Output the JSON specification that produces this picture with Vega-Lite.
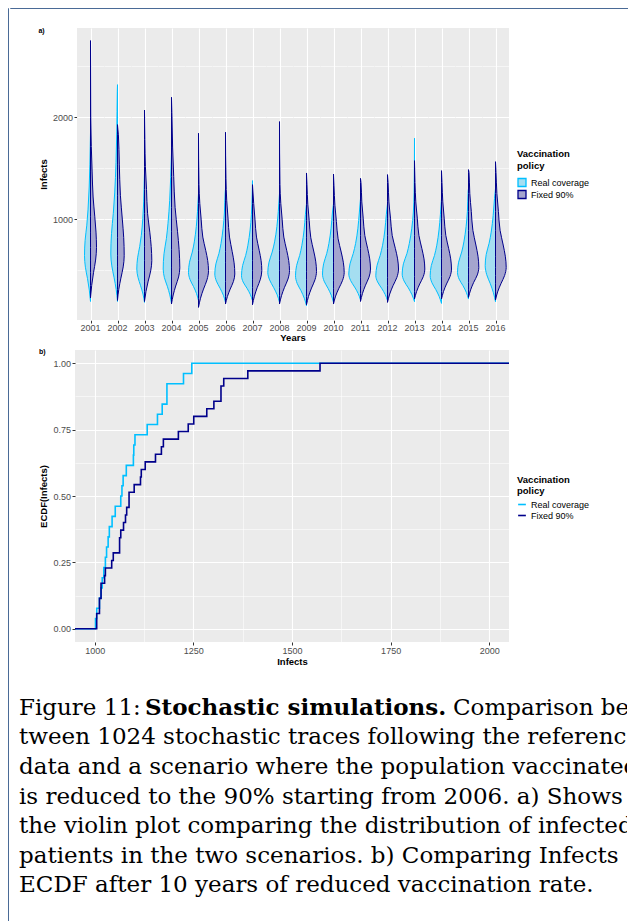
{
  "$schema": "https://vega.github.io/schema/vega-lite/v6.json",
  "padding": {"left": 7, "top": 7, "right": 0, "bottom": 0},
  "background": "white",
  "spacing": 0,
  "config": {
    "font": "Liberation Sans",
    "view": {"stroke": null},
    "axis": {"labelFont": "Liberation Sans", "labelFontSize": 9, "labelColor": "#4d4d4d", "tickColor": "#333333", "tickSize": 3, "domain": false, "gridColor": "white", "titleFontSize": 9.5, "titleFontWeight": "bold", "titleColor": "black", "labelPadding": 1.5},
    "header": {"labelFont": "Liberation Sans", "titleFont": "Liberation Sans"},
    "legend": {"labelFont": "Liberation Sans", "titleFont": "Liberation Sans", "labelFontSize": 9, "titleFontSize": 9.5, "titleFontWeight": "bold", "labelColor": "black", "titleColor": "black", "rowPadding": 1, "titlePadding": 4, "labelOffset": 4, "titleLineHeight": 11},
    "title": {"font": "Liberation Sans"}
  },
  "datasets": {
    "violins": [
      {"year":2001,"policy":"Real coverage","infects":190,"density":0},{"year":2001,"policy":"Real coverage","infects":302,"density":-0.12},{"year":2001,"policy":"Real coverage","infects":415,"density":-0.30},{"year":2001,"policy":"Real coverage","infects":527,"density":-0.51},{"year":2001,"policy":"Real coverage","infects":640,"density":-0.60},{"year":2001,"policy":"Real coverage","infects":790,"density":-0.54},{"year":2001,"policy":"Real coverage","infects":940,"density":-0.37},{"year":2001,"policy":"Real coverage","infects":1090,"density":-0.25},{"year":2001,"policy":"Real coverage","infects":1315,"density":-0.13},{"year":2001,"policy":"Real coverage","infects":1540,"density":-0.06},{"year":2001,"policy":"Real coverage","infects":1850,"density":0},
      {"year":2001,"policy":"Fixed 90%","infects":224,"density":0},{"year":2001,"policy":"Fixed 90%","infects":348,"density":0.12},{"year":2001,"policy":"Fixed 90%","infects":473,"density":0.30},{"year":2001,"policy":"Fixed 90%","infects":597,"density":0.51},{"year":2001,"policy":"Fixed 90%","infects":722,"density":0.60},{"year":2001,"policy":"Fixed 90%","infects":872,"density":0.55},{"year":2001,"policy":"Fixed 90%","infects":1022,"density":0.43},{"year":2001,"policy":"Fixed 90%","infects":1217,"density":0.26},{"year":2001,"policy":"Fixed 90%","infects":1472,"density":0.16},{"year":2001,"policy":"Fixed 90%","infects":1712,"density":0.08},{"year":2001,"policy":"Fixed 90%","infects":1997,"density":0.03},{"year":2001,"policy":"Fixed 90%","infects":2754,"density":0},
      {"year":2002,"policy":"Real coverage","infects":190,"density":0},{"year":2002,"policy":"Real coverage","infects":307,"density":-0.13},{"year":2002,"policy":"Real coverage","infects":424,"density":-0.34},{"year":2002,"policy":"Real coverage","infects":540,"density":-0.57},{"year":2002,"policy":"Real coverage","infects":657,"density":-0.67},{"year":2002,"policy":"Real coverage","infects":857,"density":-0.60},{"year":2002,"policy":"Real coverage","infects":1057,"density":-0.42},{"year":2002,"policy":"Real coverage","infects":1257,"density":-0.28},{"year":2002,"policy":"Real coverage","infects":1557,"density":-0.15},{"year":2002,"policy":"Real coverage","infects":1857,"density":-0.07},{"year":2002,"policy":"Real coverage","infects":2257,"density":-0.02},{"year":2002,"policy":"Real coverage","infects":2321,"density":0},
      {"year":2002,"policy":"Fixed 90%","infects":200,"density":0},{"year":2002,"policy":"Fixed 90%","infects":310,"density":0.13},{"year":2002,"policy":"Fixed 90%","infects":420,"density":0.34},{"year":2002,"policy":"Fixed 90%","infects":530,"density":0.57},{"year":2002,"policy":"Fixed 90%","infects":640,"density":0.67},{"year":2002,"policy":"Fixed 90%","infects":820,"density":0.62},{"year":2002,"policy":"Fixed 90%","infects":1000,"density":0.48},{"year":2002,"policy":"Fixed 90%","infects":1234,"density":0.29},{"year":2002,"policy":"Fixed 90%","infects":1540,"density":0.18},{"year":2002,"policy":"Fixed 90%","infects":1828,"density":0.09},{"year":2002,"policy":"Fixed 90%","infects":1928,"density":0},
      {"year":2003,"policy":"Real coverage","infects":181,"density":0},{"year":2003,"policy":"Real coverage","infects":263,"density":-0.15},{"year":2003,"policy":"Real coverage","infects":345,"density":-0.39},{"year":2003,"policy":"Real coverage","infects":427,"density":-0.65},{"year":2003,"policy":"Real coverage","infects":509,"density":-0.77},{"year":2003,"policy":"Real coverage","infects":619,"density":-0.69},{"year":2003,"policy":"Real coverage","infects":729,"density":-0.48},{"year":2003,"policy":"Real coverage","infects":839,"density":-0.32},{"year":2003,"policy":"Real coverage","infects":1004,"density":-0.17},{"year":2003,"policy":"Real coverage","infects":1169,"density":-0.08},{"year":2003,"policy":"Real coverage","infects":1389,"density":-0.02},{"year":2003,"policy":"Real coverage","infects":1450,"density":0},
      {"year":2003,"policy":"Fixed 90%","infects":190,"density":0},{"year":2003,"policy":"Fixed 90%","infects":290,"density":0.15},{"year":2003,"policy":"Fixed 90%","infects":390,"density":0.37},{"year":2003,"policy":"Fixed 90%","infects":491,"density":0.62},{"year":2003,"policy":"Fixed 90%","infects":591,"density":0.73},{"year":2003,"policy":"Fixed 90%","infects":731,"density":0.67},{"year":2003,"policy":"Fixed 90%","infects":871,"density":0.53},{"year":2003,"policy":"Fixed 90%","infects":1053,"density":0.31},{"year":2003,"policy":"Fixed 90%","infects":1291,"density":0.20},{"year":2003,"policy":"Fixed 90%","infects":1515,"density":0.09},{"year":2003,"policy":"Fixed 90%","infects":1781,"density":0.04},{"year":2003,"policy":"Fixed 90%","infects":2072,"density":0},
      {"year":2004,"policy":"Real coverage","infects":170,"density":0},{"year":2004,"policy":"Real coverage","infects":255,"density":-0.17},{"year":2004,"policy":"Real coverage","infects":340,"density":-0.42},{"year":2004,"policy":"Real coverage","infects":424,"density":-0.71},{"year":2004,"policy":"Real coverage","infects":509,"density":-0.83},{"year":2004,"policy":"Real coverage","infects":659,"density":-0.75},{"year":2004,"policy":"Real coverage","infects":809,"density":-0.51},{"year":2004,"policy":"Real coverage","infects":959,"density":-0.35},{"year":2004,"policy":"Real coverage","infects":1184,"density":-0.18},{"year":2004,"policy":"Real coverage","infects":1409,"density":-0.08},{"year":2004,"policy":"Real coverage","infects":1650,"density":0},
      {"year":2004,"policy":"Fixed 90%","infects":165,"density":0},{"year":2004,"policy":"Fixed 90%","infects":254,"density":0.17},{"year":2004,"policy":"Fixed 90%","infects":342,"density":0.42},{"year":2004,"policy":"Fixed 90%","infects":431,"density":0.71},{"year":2004,"policy":"Fixed 90%","infects":520,"density":0.83},{"year":2004,"policy":"Fixed 90%","infects":700,"density":0.76},{"year":2004,"policy":"Fixed 90%","infects":880,"density":0.60},{"year":2004,"policy":"Fixed 90%","infects":1114,"density":0.36},{"year":2004,"policy":"Fixed 90%","infects":1420,"density":0.22},{"year":2004,"policy":"Fixed 90%","infects":1708,"density":0.11},{"year":2004,"policy":"Fixed 90%","infects":2050,"density":0.04},{"year":2004,"policy":"Fixed 90%","infects":2197,"density":0},
      {"year":2005,"policy":"Real coverage","infects":198,"density":0},{"year":2005,"policy":"Real coverage","infects":268,"density":-0.20},{"year":2005,"policy":"Real coverage","infects":337,"density":-0.50},{"year":2005,"policy":"Real coverage","infects":406,"density":-0.85},{"year":2005,"policy":"Real coverage","infects":476,"density":-1.00},{"year":2005,"policy":"Real coverage","infects":576,"density":-0.90},{"year":2005,"policy":"Real coverage","infects":676,"density":-0.62},{"year":2005,"policy":"Real coverage","infects":776,"density":-0.42},{"year":2005,"policy":"Real coverage","infects":926,"density":-0.22},{"year":2005,"policy":"Real coverage","infects":1076,"density":-0.10},{"year":2005,"policy":"Real coverage","infects":1250,"density":0},
      {"year":2005,"policy":"Fixed 90%","infects":132,"density":0},{"year":2005,"policy":"Fixed 90%","infects":222,"density":0.20},{"year":2005,"policy":"Fixed 90%","infects":312,"density":0.50},{"year":2005,"policy":"Fixed 90%","infects":403,"density":0.85},{"year":2005,"policy":"Fixed 90%","infects":493,"density":1.00},{"year":2005,"policy":"Fixed 90%","infects":593,"density":0.92},{"year":2005,"policy":"Fixed 90%","infects":693,"density":0.72},{"year":2005,"policy":"Fixed 90%","infects":823,"density":0.43},{"year":2005,"policy":"Fixed 90%","infects":993,"density":0.27},{"year":2005,"policy":"Fixed 90%","infects":1153,"density":0.13},{"year":2005,"policy":"Fixed 90%","infects":1343,"density":0.05},{"year":2005,"policy":"Fixed 90%","infects":1843,"density":0},
      {"year":2006,"policy":"Real coverage","infects":181,"density":0},{"year":2006,"policy":"Real coverage","infects":251,"density":-0.21},{"year":2006,"policy":"Real coverage","infects":320,"density":-0.54},{"year":2006,"policy":"Real coverage","infects":390,"density":-0.91},{"year":2006,"policy":"Real coverage","infects":460,"density":-1.07},{"year":2006,"policy":"Real coverage","infects":560,"density":-0.96},{"year":2006,"policy":"Real coverage","infects":660,"density":-0.66},{"year":2006,"policy":"Real coverage","infects":760,"density":-0.45},{"year":2006,"policy":"Real coverage","infects":910,"density":-0.24},{"year":2006,"policy":"Real coverage","infects":1060,"density":-0.11},{"year":2006,"policy":"Real coverage","infects":1260,"density":-0.03},{"year":2006,"policy":"Real coverage","infects":1300,"density":0},
      {"year":2006,"policy":"Fixed 90%","infects":165,"density":0},{"year":2006,"policy":"Fixed 90%","infects":239,"density":0.19},{"year":2006,"policy":"Fixed 90%","infects":312,"density":0.47},{"year":2006,"policy":"Fixed 90%","infects":386,"density":0.79},{"year":2006,"policy":"Fixed 90%","infects":460,"density":0.93},{"year":2006,"policy":"Fixed 90%","infects":570,"density":0.86},{"year":2006,"policy":"Fixed 90%","infects":680,"density":0.67},{"year":2006,"policy":"Fixed 90%","infects":823,"density":0.40},{"year":2006,"policy":"Fixed 90%","infects":1010,"density":0.25},{"year":2006,"policy":"Fixed 90%","infects":1186,"density":0.12},{"year":2006,"policy":"Fixed 90%","infects":1395,"density":0.05},{"year":2006,"policy":"Fixed 90%","infects":1853,"density":0},
      {"year":2007,"policy":"Real coverage","infects":198,"density":0},{"year":2007,"policy":"Real coverage","infects":259,"density":-0.22},{"year":2007,"policy":"Real coverage","infects":320,"density":-0.55},{"year":2007,"policy":"Real coverage","infects":382,"density":-0.94},{"year":2007,"policy":"Real coverage","infects":443,"density":-1.10},{"year":2007,"policy":"Real coverage","infects":543,"density":-0.99},{"year":2007,"policy":"Real coverage","infects":643,"density":-0.68},{"year":2007,"policy":"Real coverage","infects":743,"density":-0.46},{"year":2007,"policy":"Real coverage","infects":893,"density":-0.24},{"year":2007,"policy":"Real coverage","infects":1043,"density":-0.11},{"year":2007,"policy":"Real coverage","infects":1243,"density":-0.03},{"year":2007,"policy":"Real coverage","infects":1378,"density":0},
      {"year":2007,"policy":"Fixed 90%","infects":158,"density":0},{"year":2007,"policy":"Fixed 90%","infects":242,"density":0.19},{"year":2007,"policy":"Fixed 90%","infects":326,"density":0.47},{"year":2007,"policy":"Fixed 90%","infects":409,"density":0.79},{"year":2007,"policy":"Fixed 90%","infects":493,"density":0.93},{"year":2007,"policy":"Fixed 90%","infects":593,"density":0.86},{"year":2007,"policy":"Fixed 90%","infects":693,"density":0.67},{"year":2007,"policy":"Fixed 90%","infects":823,"density":0.40},{"year":2007,"policy":"Fixed 90%","infects":993,"density":0.25},{"year":2007,"policy":"Fixed 90%","infects":1153,"density":0.12},{"year":2007,"policy":"Fixed 90%","infects":1338,"density":0},
      {"year":2008,"policy":"Real coverage","infects":181,"density":0},{"year":2008,"policy":"Real coverage","infects":255,"density":-0.23},{"year":2008,"policy":"Real coverage","infects":328,"density":-0.59},{"year":2008,"policy":"Real coverage","infects":402,"density":-0.99},{"year":2008,"policy":"Real coverage","infects":476,"density":-1.17},{"year":2008,"policy":"Real coverage","infects":576,"density":-1.05},{"year":2008,"policy":"Real coverage","infects":676,"density":-0.73},{"year":2008,"policy":"Real coverage","infects":776,"density":-0.49},{"year":2008,"policy":"Real coverage","infects":926,"density":-0.26},{"year":2008,"policy":"Real coverage","infects":1076,"density":-0.12},{"year":2008,"policy":"Real coverage","infects":1250,"density":0},
      {"year":2008,"policy":"Fixed 90%","infects":165,"density":0},{"year":2008,"policy":"Fixed 90%","infects":247,"density":0.20},{"year":2008,"policy":"Fixed 90%","infects":329,"density":0.50},{"year":2008,"policy":"Fixed 90%","infects":411,"density":0.85},{"year":2008,"policy":"Fixed 90%","infects":493,"density":1.00},{"year":2008,"policy":"Fixed 90%","infects":593,"density":0.92},{"year":2008,"policy":"Fixed 90%","infects":693,"density":0.72},{"year":2008,"policy":"Fixed 90%","infects":823,"density":0.43},{"year":2008,"policy":"Fixed 90%","infects":993,"density":0.27},{"year":2008,"policy":"Fixed 90%","infects":1153,"density":0.13},{"year":2008,"policy":"Fixed 90%","infects":1343,"density":0.05},{"year":2008,"policy":"Fixed 90%","infects":1958,"density":0},
      {"year":2009,"policy":"Real coverage","infects":148,"density":0},{"year":2009,"policy":"Real coverage","infects":222,"density":-0.22},{"year":2009,"policy":"Real coverage","infects":296,"density":-0.55},{"year":2009,"policy":"Real coverage","infects":369,"density":-0.94},{"year":2009,"policy":"Real coverage","infects":443,"density":-1.10},{"year":2009,"policy":"Real coverage","infects":543,"density":-0.99},{"year":2009,"policy":"Real coverage","infects":643,"density":-0.68},{"year":2009,"policy":"Real coverage","infects":743,"density":-0.46},{"year":2009,"policy":"Real coverage","infects":893,"density":-0.24},{"year":2009,"policy":"Real coverage","infects":1043,"density":-0.11},{"year":2009,"policy":"Real coverage","infects":1150,"density":0},
      {"year":2009,"policy":"Fixed 90%","infects":158,"density":0},{"year":2009,"policy":"Fixed 90%","infects":240,"density":0.20},{"year":2009,"policy":"Fixed 90%","infects":322,"density":0.50},{"year":2009,"policy":"Fixed 90%","infects":404,"density":0.85},{"year":2009,"policy":"Fixed 90%","infects":486,"density":1.00},{"year":2009,"policy":"Fixed 90%","infects":586,"density":0.92},{"year":2009,"policy":"Fixed 90%","infects":686,"density":0.72},{"year":2009,"policy":"Fixed 90%","infects":816,"density":0.43},{"year":2009,"policy":"Fixed 90%","infects":986,"density":0.27},{"year":2009,"policy":"Fixed 90%","infects":1146,"density":0.13},{"year":2009,"policy":"Fixed 90%","infects":1336,"density":0.05},{"year":2009,"policy":"Fixed 90%","infects":1453,"density":0},
      {"year":2010,"policy":"Real coverage","infects":181,"density":0},{"year":2010,"policy":"Real coverage","infects":251,"density":-0.22},{"year":2010,"policy":"Real coverage","infects":320,"density":-0.55},{"year":2010,"policy":"Real coverage","infects":390,"density":-0.94},{"year":2010,"policy":"Real coverage","infects":460,"density":-1.10},{"year":2010,"policy":"Real coverage","infects":560,"density":-0.99},{"year":2010,"policy":"Real coverage","infects":660,"density":-0.68},{"year":2010,"policy":"Real coverage","infects":760,"density":-0.46},{"year":2010,"policy":"Real coverage","infects":910,"density":-0.24},{"year":2010,"policy":"Real coverage","infects":1060,"density":-0.11},{"year":2010,"policy":"Real coverage","infects":1150,"density":0},
      {"year":2010,"policy":"Fixed 90%","infects":165,"density":0},{"year":2010,"policy":"Fixed 90%","infects":243,"density":0.21},{"year":2010,"policy":"Fixed 90%","infects":320,"density":0.54},{"year":2010,"policy":"Fixed 90%","infects":398,"density":0.91},{"year":2010,"policy":"Fixed 90%","infects":476,"density":1.07},{"year":2010,"policy":"Fixed 90%","infects":576,"density":0.98},{"year":2010,"policy":"Fixed 90%","infects":676,"density":0.77},{"year":2010,"policy":"Fixed 90%","infects":806,"density":0.46},{"year":2010,"policy":"Fixed 90%","infects":976,"density":0.29},{"year":2010,"policy":"Fixed 90%","infects":1136,"density":0.14},{"year":2010,"policy":"Fixed 90%","infects":1326,"density":0.05},{"year":2010,"policy":"Fixed 90%","infects":1443,"density":0},
      {"year":2011,"policy":"Real coverage","infects":204,"density":0},{"year":2011,"policy":"Real coverage","infects":268,"density":-0.23},{"year":2011,"policy":"Real coverage","infects":332,"density":-0.59},{"year":2011,"policy":"Real coverage","infects":396,"density":-0.99},{"year":2011,"policy":"Real coverage","infects":460,"density":-1.17},{"year":2011,"policy":"Real coverage","infects":560,"density":-1.05},{"year":2011,"policy":"Real coverage","infects":660,"density":-0.73},{"year":2011,"policy":"Real coverage","infects":760,"density":-0.49},{"year":2011,"policy":"Real coverage","infects":910,"density":-0.26},{"year":2011,"policy":"Real coverage","infects":1060,"density":-0.12},{"year":2011,"policy":"Real coverage","infects":1200,"density":0},
      {"year":2011,"policy":"Fixed 90%","infects":190,"density":0},{"year":2011,"policy":"Fixed 90%","infects":270,"density":0.20},{"year":2011,"policy":"Fixed 90%","infects":350,"density":0.50},{"year":2011,"policy":"Fixed 90%","infects":429,"density":0.85},{"year":2011,"policy":"Fixed 90%","infects":509,"density":1.00},{"year":2011,"policy":"Fixed 90%","infects":609,"density":0.92},{"year":2011,"policy":"Fixed 90%","infects":709,"density":0.72},{"year":2011,"policy":"Fixed 90%","infects":839,"density":0.43},{"year":2011,"policy":"Fixed 90%","infects":1009,"density":0.27},{"year":2011,"policy":"Fixed 90%","infects":1169,"density":0.13},{"year":2011,"policy":"Fixed 90%","infects":1359,"density":0.05},{"year":2011,"policy":"Fixed 90%","infects":1400,"density":0},
      {"year":2012,"policy":"Real coverage","infects":198,"density":0},{"year":2012,"policy":"Real coverage","infects":259,"density":-0.23},{"year":2012,"policy":"Real coverage","infects":320,"density":-0.59},{"year":2012,"policy":"Real coverage","infects":382,"density":-0.99},{"year":2012,"policy":"Real coverage","infects":443,"density":-1.17},{"year":2012,"policy":"Real coverage","infects":543,"density":-1.05},{"year":2012,"policy":"Real coverage","infects":643,"density":-0.73},{"year":2012,"policy":"Real coverage","infects":743,"density":-0.49},{"year":2012,"policy":"Real coverage","infects":893,"density":-0.26},{"year":2012,"policy":"Real coverage","infects":1043,"density":-0.12},{"year":2012,"policy":"Real coverage","infects":1150,"density":0},
      {"year":2012,"policy":"Fixed 90%","infects":181,"density":0},{"year":2012,"policy":"Fixed 90%","infects":263,"density":0.22},{"year":2012,"policy":"Fixed 90%","infects":345,"density":0.55},{"year":2012,"policy":"Fixed 90%","infects":427,"density":0.94},{"year":2012,"policy":"Fixed 90%","infects":509,"density":1.10},{"year":2012,"policy":"Fixed 90%","infects":609,"density":1.01},{"year":2012,"policy":"Fixed 90%","infects":709,"density":0.79},{"year":2012,"policy":"Fixed 90%","infects":839,"density":0.47},{"year":2012,"policy":"Fixed 90%","infects":1009,"density":0.30},{"year":2012,"policy":"Fixed 90%","infects":1169,"density":0.14},{"year":2012,"policy":"Fixed 90%","infects":1359,"density":0.06},{"year":2012,"policy":"Fixed 90%","infects":1437,"density":0},
      {"year":2013,"policy":"Real coverage","infects":188,"density":0},{"year":2013,"policy":"Real coverage","infects":256,"density":-0.25},{"year":2013,"policy":"Real coverage","infects":324,"density":-0.62},{"year":2013,"policy":"Real coverage","infects":392,"density":-1.05},{"year":2013,"policy":"Real coverage","infects":460,"density":-1.23},{"year":2013,"policy":"Real coverage","infects":560,"density":-1.11},{"year":2013,"policy":"Real coverage","infects":660,"density":-0.76},{"year":2013,"policy":"Real coverage","infects":760,"density":-0.52},{"year":2013,"policy":"Real coverage","infects":910,"density":-0.27},{"year":2013,"policy":"Real coverage","infects":1060,"density":-0.12},{"year":2013,"policy":"Real coverage","infects":1260,"density":-0.04},{"year":2013,"policy":"Real coverage","infects":1794,"density":0},
      {"year":2013,"policy":"Fixed 90%","infects":214,"density":0},{"year":2013,"policy":"Fixed 90%","infects":288,"density":0.21},{"year":2013,"policy":"Fixed 90%","infects":362,"density":0.52},{"year":2013,"policy":"Fixed 90%","infects":435,"density":0.88},{"year":2013,"policy":"Fixed 90%","infects":509,"density":1.03},{"year":2013,"policy":"Fixed 90%","infects":609,"density":0.95},{"year":2013,"policy":"Fixed 90%","infects":709,"density":0.74},{"year":2013,"policy":"Fixed 90%","infects":839,"density":0.44},{"year":2013,"policy":"Fixed 90%","infects":1009,"density":0.28},{"year":2013,"policy":"Fixed 90%","infects":1169,"density":0.13},{"year":2013,"policy":"Fixed 90%","infects":1359,"density":0.05},{"year":2013,"policy":"Fixed 90%","infects":1574,"density":0},
      {"year":2014,"policy":"Real coverage","infects":171,"density":0},{"year":2014,"policy":"Real coverage","infects":239,"density":-0.23},{"year":2014,"policy":"Real coverage","infects":307,"density":-0.57},{"year":2014,"policy":"Real coverage","infects":375,"density":-0.96},{"year":2014,"policy":"Real coverage","infects":443,"density":-1.13},{"year":2014,"policy":"Real coverage","infects":543,"density":-1.02},{"year":2014,"policy":"Real coverage","infects":643,"density":-0.70},{"year":2014,"policy":"Real coverage","infects":743,"density":-0.47},{"year":2014,"policy":"Real coverage","infects":893,"density":-0.25},{"year":2014,"policy":"Real coverage","infects":1043,"density":-0.11},{"year":2014,"policy":"Real coverage","infects":1200,"density":0},
      {"year":2014,"policy":"Fixed 90%","infects":214,"density":0},{"year":2014,"policy":"Fixed 90%","infects":288,"density":0.20},{"year":2014,"policy":"Fixed 90%","infects":362,"density":0.50},{"year":2014,"policy":"Fixed 90%","infects":435,"density":0.85},{"year":2014,"policy":"Fixed 90%","infects":509,"density":1.00},{"year":2014,"policy":"Fixed 90%","infects":609,"density":0.92},{"year":2014,"policy":"Fixed 90%","infects":709,"density":0.72},{"year":2014,"policy":"Fixed 90%","infects":839,"density":0.43},{"year":2014,"policy":"Fixed 90%","infects":1009,"density":0.27},{"year":2014,"policy":"Fixed 90%","infects":1169,"density":0.13},{"year":2014,"policy":"Fixed 90%","infects":1359,"density":0.05},{"year":2014,"policy":"Fixed 90%","infects":1476,"density":0},
      {"year":2015,"policy":"Real coverage","infects":214,"density":0},{"year":2015,"policy":"Real coverage","infects":280,"density":-0.22},{"year":2015,"policy":"Real coverage","infects":345,"density":-0.55},{"year":2015,"policy":"Real coverage","infects":410,"density":-0.94},{"year":2015,"policy":"Real coverage","infects":476,"density":-1.10},{"year":2015,"policy":"Real coverage","infects":576,"density":-0.99},{"year":2015,"policy":"Real coverage","infects":676,"density":-0.68},{"year":2015,"policy":"Real coverage","infects":776,"density":-0.46},{"year":2015,"policy":"Real coverage","infects":926,"density":-0.24},{"year":2015,"policy":"Real coverage","infects":1076,"density":-0.11},{"year":2015,"policy":"Real coverage","infects":1276,"density":-0.03},{"year":2015,"policy":"Real coverage","infects":1300,"density":0},
      {"year":2015,"policy":"Fixed 90%","infects":230,"density":0},{"year":2015,"policy":"Fixed 90%","infects":304,"density":0.21},{"year":2015,"policy":"Fixed 90%","infects":378,"density":0.52},{"year":2015,"policy":"Fixed 90%","infects":451,"density":0.88},{"year":2015,"policy":"Fixed 90%","infects":525,"density":1.03},{"year":2015,"policy":"Fixed 90%","infects":635,"density":0.95},{"year":2015,"policy":"Fixed 90%","infects":745,"density":0.74},{"year":2015,"policy":"Fixed 90%","infects":888,"density":0.44},{"year":2015,"policy":"Fixed 90%","infects":1075,"density":0.28},{"year":2015,"policy":"Fixed 90%","infects":1251,"density":0.13},{"year":2015,"policy":"Fixed 90%","infects":1460,"density":0.05},{"year":2015,"policy":"Fixed 90%","infects":1486,"density":0},
      {"year":2016,"policy":"Real coverage","infects":188,"density":0},{"year":2016,"policy":"Real coverage","infects":276,"density":-0.21},{"year":2016,"policy":"Real coverage","infects":365,"density":-0.52},{"year":2016,"policy":"Real coverage","infects":454,"density":-0.88},{"year":2016,"policy":"Real coverage","infects":542,"density":-1.03},{"year":2016,"policy":"Real coverage","infects":652,"density":-0.93},{"year":2016,"policy":"Real coverage","infects":762,"density":-0.64},{"year":2016,"policy":"Real coverage","infects":872,"density":-0.43},{"year":2016,"policy":"Real coverage","infects":1037,"density":-0.23},{"year":2016,"policy":"Real coverage","infects":1202,"density":-0.10},{"year":2016,"policy":"Real coverage","infects":1300,"density":0},
      {"year":2016,"policy":"Fixed 90%","infects":204,"density":0},{"year":2016,"policy":"Fixed 90%","infects":284,"density":0.21},{"year":2016,"policy":"Fixed 90%","infects":364,"density":0.54},{"year":2016,"policy":"Fixed 90%","infects":445,"density":0.91},{"year":2016,"policy":"Fixed 90%","infects":525,"density":1.07},{"year":2016,"policy":"Fixed 90%","infects":635,"density":0.98},{"year":2016,"policy":"Fixed 90%","infects":745,"density":0.77},{"year":2016,"policy":"Fixed 90%","infects":888,"density":0.46},{"year":2016,"policy":"Fixed 90%","infects":1075,"density":0.29},{"year":2016,"policy":"Fixed 90%","infects":1251,"density":0.14},{"year":2016,"policy":"Fixed 90%","infects":1460,"density":0.05},{"year":2016,"policy":"Fixed 90%","infects":1564,"density":0}
    ],
    "ecdf": [
      {"policy":"Real coverage","infects":950,"ecdf":0},{"policy":"Real coverage","infects":1002,"ecdf":0.0385},{"policy":"Real coverage","infects":1005,"ecdf":0.0769},{"policy":"Real coverage","infects":1012,"ecdf":0.1154},{"policy":"Real coverage","infects":1016,"ecdf":0.1538},{"policy":"Real coverage","infects":1019,"ecdf":0.1923},{"policy":"Real coverage","infects":1023,"ecdf":0.2308},{"policy":"Real coverage","infects":1027,"ecdf":0.2692},{"policy":"Real coverage","infects":1030,"ecdf":0.3077},{"policy":"Real coverage","infects":1034,"ecdf":0.3462},{"policy":"Real coverage","infects":1037,"ecdf":0.3846},{"policy":"Real coverage","infects":1044,"ecdf":0.4231},{"policy":"Real coverage","infects":1052,"ecdf":0.4615},{"policy":"Real coverage","infects":1066,"ecdf":0.5},{"policy":"Real coverage","infects":1069,"ecdf":0.5385},{"policy":"Real coverage","infects":1072,"ecdf":0.5769},{"policy":"Real coverage","infects":1080,"ecdf":0.6154},{"policy":"Real coverage","infects":1098,"ecdf":0.6538},{"policy":"Real coverage","infects":1099,"ecdf":0.6923},{"policy":"Real coverage","infects":1102,"ecdf":0.7308},{"policy":"Real coverage","infects":1133,"ecdf":0.7692},{"policy":"Real coverage","infects":1159,"ecdf":0.8077},{"policy":"Real coverage","infects":1171,"ecdf":0.8462},{"policy":"Real coverage","infects":1183,"ecdf":0.9231},{"policy":"Real coverage","infects":1225,"ecdf":0.9615},{"policy":"Real coverage","infects":1246,"ecdf":1},{"policy":"Real coverage","infects":2050,"ecdf":1},
      {"policy":"Fixed 90%","infects":950,"ecdf":0},{"policy":"Fixed 90%","infects":1005,"ecdf":0.0571},{"policy":"Fixed 90%","infects":1012,"ecdf":0.1143},{"policy":"Fixed 90%","infects":1016,"ecdf":0.1714},{"policy":"Fixed 90%","infects":1025,"ecdf":0.2},{"policy":"Fixed 90%","infects":1027,"ecdf":0.2286},{"policy":"Fixed 90%","infects":1043,"ecdf":0.2571},{"policy":"Fixed 90%","infects":1047,"ecdf":0.2857},{"policy":"Fixed 90%","infects":1063,"ecdf":0.3429},{"policy":"Fixed 90%","infects":1066,"ecdf":0.3714},{"policy":"Fixed 90%","infects":1073,"ecdf":0.4},{"policy":"Fixed 90%","infects":1078,"ecdf":0.4286},{"policy":"Fixed 90%","infects":1081,"ecdf":0.4571},{"policy":"Fixed 90%","infects":1087,"ecdf":0.5143},{"policy":"Fixed 90%","infects":1100,"ecdf":0.5429},{"policy":"Fixed 90%","infects":1116,"ecdf":0.5714},{"policy":"Fixed 90%","infects":1118,"ecdf":0.6},{"policy":"Fixed 90%","infects":1128,"ecdf":0.6286},{"policy":"Fixed 90%","infects":1154,"ecdf":0.6571},{"policy":"Fixed 90%","infects":1169,"ecdf":0.6857},{"policy":"Fixed 90%","infects":1174,"ecdf":0.7143},{"policy":"Fixed 90%","infects":1212,"ecdf":0.7429},{"policy":"Fixed 90%","infects":1237,"ecdf":0.7714},{"policy":"Fixed 90%","infects":1251,"ecdf":0.8},{"policy":"Fixed 90%","infects":1284,"ecdf":0.8286},{"policy":"Fixed 90%","infects":1302,"ecdf":0.8571},{"policy":"Fixed 90%","infects":1320,"ecdf":0.9143},{"policy":"Fixed 90%","infects":1327,"ecdf":0.9429},{"policy":"Fixed 90%","infects":1388,"ecdf":0.9714},{"policy":"Fixed 90%","infects":1571,"ecdf":1},{"policy":"Fixed 90%","infects":2050,"ecdf":1}
    ],
    "caption": [
      {"line":1,"part":"a","text":"Figure 11:"},
      {"line":1,"part":"b","text":"Stochastic simulations."},
      {"line":1,"part":"c","text":"Comparison be-"},
      {"line":2,"part":"a","text":"tween 1024 stochastic traces following the reference"},
      {"line":3,"part":"a","text":"data and a scenario where the population vaccinated"},
      {"line":4,"part":"a","text":"is reduced to the 90% starting from 2006. a) Shows"},
      {"line":5,"part":"a","text":"the violin plot comparing the distribution of infected"},
      {"line":6,"part":"a","text":"patients in the two scenarios. b) Comparing Infects"},
      {"line":7,"part":"a","text":"ECDF after 10 years of reduced vaccination rate."}
    ]
  },
  "hconcat": [
    {"width": 0.01, "height": 914, "view": {"stroke": "#4a6a96", "strokeWidth": 1}, "data": {"values": []}, "mark": "point"},
    {
      "vconcat": [
        {"width": 621, "height": 0.01, "view": {"stroke": "#4a6a96", "strokeWidth": 1}, "data": {"values": []}, "mark": "point"},
        {
          "vconcat": [
            {
              "hconcat": [
                {"width": 28, "height": 1, "view": {"fill": "white"}, "data": {"values": []}, "mark": "point"},
                {
                  "data": {"name": "violins"},
                  "title": {"text": "a)", "anchor": "start", "frame": "bounds", "fontSize": 7, "fontWeight": "bold", "offset": -6, "color": "black"},
                  "facet": {"column": {"field": "year", "type": "ordinal", "header": {"title": "Years", "titleOrient": "bottom", "labelOrient": "bottom", "labelFontSize": 9, "labelColor": "#4d4d4d", "labelPadding": 0, "titleFontSize": 9.5, "titleFontWeight": "bold", "titleColor": "black", "titlePadding": -10}}},
                  "spacing": 0,
                  "bounds": "flush",
                  "spec": {
                    "width": 27,
                    "height": 292,
                    "view": {"fill": "#ebebeb", "stroke": null},
                    "encoding": {
                      "x": {"field": "density", "type": "quantitative", "scale": {"domain": [-1.35, 1.35], "nice": false},
                        "axis": {"values": [0], "labels": false, "grid": true, "gridWidth": 1.1, "ticks": true, "title": null}},
                      "x2": {"datum": 0},
                      "y": {"field": "infects", "type": "quantitative", "scale": {"domain": [8, 2878], "nice": false, "zero": false},
                        "axis": {"title": "Infects", "values": [500, 1000, 1500, 2000, 2500], "format": "d", "labelExpr": "datum.value % 1000 === 0 ? datum.label : ''", "tickOpacity": {"condition": {"test": "datum.value % 1000 === 0", "value": 1}, "value": 0}, "gridWidth": {"condition": {"test": "datum.value % 1000 === 0", "value": 1.1}, "value": 0.55}, "titlePadding": 4}},
                      "fill": {"field": "policy", "type": "nominal", "scale": {"domain": ["Real coverage", "Fixed 90%"], "range": ["#a5def1", "#a5a5ce"]},
                        "legend": {"title": ["Vaccination", "policy"], "orient": "none", "legendX": 440, "legendY": 121, "symbolType": "square", "symbolSize": 64, "symbolStrokeWidth": 1.3, "rowPadding": -4, "titlePadding": 7, "titleLineHeight": 12}},
                      "stroke": {"field": "policy", "type": "nominal", "scale": {"domain": ["Real coverage", "Fixed 90%"], "range": ["#00bfff", "#00008b"]},
                        "legend": {"title": ["Vaccination", "policy"], "orient": "none", "legendX": 440, "legendY": 121, "symbolType": "square", "symbolSize": 64, "symbolStrokeWidth": 1.3, "rowPadding": -4, "titlePadding": 7, "titleLineHeight": 12}}
                    },
                    "layer": [
                      {"transform": [{"filter": "datum.policy === 'Real coverage'"}], "mark": {"type": "area", "orient": "horizontal", "strokeWidth": 1, "interpolate": "monotone"}},
                      {"transform": [{"filter": "datum.policy === 'Fixed 90%'"}], "mark": {"type": "area", "orient": "horizontal", "strokeWidth": 1, "interpolate": "monotone"}}
                    ]
                  }
                }
              ],
              "spacing": 0,
              "resolve": {"scale": {"fill": "independent", "stroke": "independent"}, "legend": {"fill": "independent", "stroke": "independent"}}
            },
            {
              "hconcat": [
                {"width": 28, "height": 1, "view": {"fill": "white"}, "data": {"values": []}, "mark": "point"},
                {
                  "data": {"name": "ecdf"},
                  "width": 434,
                  "height": 292,
                  "view": {"fill": "#ebebeb", "stroke": null},
                  "title": {"text": "b)", "anchor": "start", "frame": "bounds", "fontSize": 7, "fontWeight": "bold", "offset": -5, "color": "black"},
                  "mark": {"type": "line", "interpolate": "step-after", "strokeWidth": 1.6},
                  "encoding": {
                    "x": {"field": "infects", "type": "quantitative", "scale": {"domain": [950, 2050], "nice": false, "zero": false},
                      "axis": {"title": "Infects", "values": [1000, 1125, 1250, 1375, 1500, 1625, 1750, 1875, 2000], "format": "d", "labelExpr": "datum.value % 250 === 0 ? datum.label : ''", "tickOpacity": {"condition": {"test": "datum.value % 250 === 0", "value": 1}, "value": 0}, "gridWidth": {"condition": {"test": "datum.value % 250 === 0", "value": 1.1}, "value": 0.55}, "titlePadding": 1}},
                    "y": {"field": "ecdf", "type": "quantitative", "scale": {"domain": [-0.05, 1.05], "nice": false},
                      "axis": {"title": "ECDF(Infects)", "values": [0, 0.125, 0.25, 0.375, 0.5, 0.625, 0.75, 0.875, 1], "format": ".2f", "labelExpr": "(datum.value * 4) % 1 === 0 ? datum.label : ''", "tickOpacity": {"condition": {"test": "(datum.value * 4) % 1 === 0", "value": 1}, "value": 0}, "gridWidth": {"condition": {"test": "(datum.value * 4) % 1 === 0", "value": 1.1}, "value": 0.55}, "titlePadding": 4}},
                    "stroke": {"field": "policy", "type": "nominal", "scale": {"domain": ["Real coverage", "Fixed 90%"], "range": ["#00bfff", "#00008b"]},
                      "legend": {"title": ["Vaccination", "policy"], "orient": "none", "legendX": 442, "legendY": 125, "symbolType": "stroke", "symbolSize": 60, "symbolStrokeWidth": 1.6}}
                  }
                }
              ],
              "spacing": 0,
              "resolve": {"scale": {"stroke": "independent"}, "legend": {"stroke": "independent"}}
            },
            {
              "hconcat": [
                {"width": 9, "height": 1, "view": {"fill": "white"}, "data": {"values": []}, "mark": "point"},
                {
                  "data": {"name": "caption"},
                  "width": 608,
                  "height": 251,
                  "encoding": {
                    "x": {"datum": 0, "type": "quantitative", "scale": {"domain": [0, 1]}, "axis": null},
                    "y": {"field": "line", "type": "quantitative", "scale": {"domain": [-0.254, 8.254], "reverse": true, "nice": false, "zero": false}, "axis": null},
                    "text": {"field": "text"}
                  },
                  "layer": [
                    {"transform": [{"filter": "datum.part === 'a'"}], "mark": {"type": "text", "align": "left", "baseline": "middle", "clip": true, "font": "DejaVu Serif", "fontSize": 23, "color": "black"}},
                    {"transform": [{"filter": "datum.part === 'b'"}], "mark": {"type": "text", "align": "left", "baseline": "middle", "clip": true, "dx": 126, "font": "DejaVu Serif", "fontWeight": "bold", "fontSize": 23, "color": "black"}},
                    {"transform": [{"filter": "datum.part === 'c'"}], "mark": {"type": "text", "align": "left", "baseline": "middle", "clip": true, "dx": 434, "font": "DejaVu Serif", "fontSize": 23, "color": "black"}}
                  ]
                }
              ],
              "spacing": 0
            }
          ],
          "spacing": 5,
          "resolve": {"scale": {"fill": "independent", "stroke": "independent"}, "legend": {"fill": "independent", "stroke": "independent"}}
        }
      ],
      "spacing": 18,
      "resolve": {"scale": {"fill": "independent", "stroke": "independent"}, "legend": {"fill": "independent", "stroke": "independent"}}
    }
  ],
  "resolve": {"scale": {"fill": "independent", "stroke": "independent"}, "legend": {"fill": "independent", "stroke": "independent"}}
}
